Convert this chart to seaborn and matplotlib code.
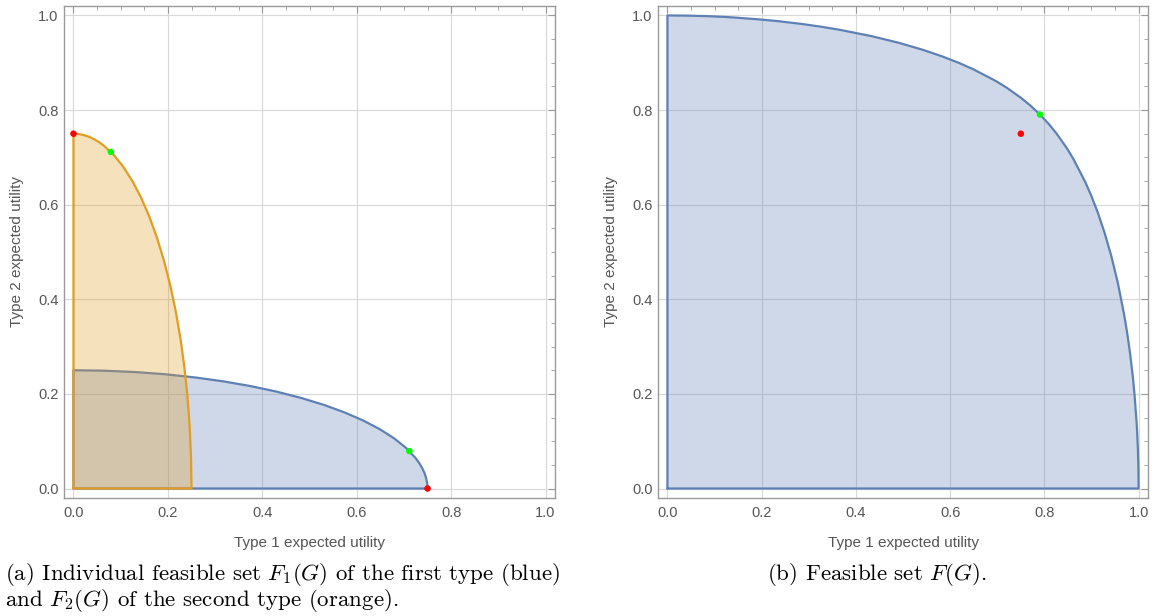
import numpy as np
import pandas as pd
import seaborn as sns
import matplotlib.pyplot as plt

# ---------------------------------------------
# data
# ---------------------------------------------

# boundary of F1(G) (blue), from (0, 0.25) to (0.75, 0)
blue_x = [0.0, 0.0654, 0.1302, 0.1941, 0.2565, 0.3170, 0.375, 0.4302, 0.4821, 0.5303,
          0.5745, 0.6144, 0.6495, 0.6797, 0.7048, 0.7244, 0.7322, 0.7386, 0.7436,
          0.7471, 0.7493, 0.75]
blue_y = [0.25, 0.2490, 0.2462, 0.2415, 0.2349, 0.2266, 0.2165, 0.2048, 0.1915, 0.1768,
          0.1607, 0.1434, 0.125, 0.1057, 0.0855, 0.0647, 0.0541, 0.0434, 0.0326,
          0.0218, 0.0109, 0.0]

# boundary of F2(G) (orange), from (0, 0.75) to (0.25, 0)
orange_x = [0.0, 0.0109, 0.0218, 0.0326, 0.0434, 0.0541, 0.0647, 0.0855, 0.1057, 0.125,
            0.1434, 0.1607, 0.1768, 0.1915, 0.2048, 0.2165, 0.2266, 0.2349, 0.2415,
            0.2462, 0.2490, 0.25]
orange_y = [0.75, 0.7493, 0.7471, 0.7436, 0.7386, 0.7322, 0.7244, 0.7048, 0.6797, 0.6495,
            0.6144, 0.5745, 0.5303, 0.4821, 0.4302, 0.375, 0.3170, 0.2565, 0.1941,
            0.1302, 0.0654, 0.0]

# boundary of F(G), from (0, 1) to (1, 0)
total_x = [0.0, 0.0407, 0.0811, 0.1208, 0.1405, 0.1977, 0.2343, 0.2865, 0.3272, 0.3653,
           0.4338, 0.4921, 0.5415, 0.5832, 0.6185, 0.6485, 0.6968, 0.7201, 0.7498,
           0.7699, 0.7906, 0.8099, 0.8262, 0.8472, 0.8615, 0.8865, 0.8997, 0.9134,
           0.9275, 0.9419, 0.9561, 0.9697, 0.9760, 0.9818, 0.9880, 0.9914, 0.9957,
           0.9969, 0.9986, 0.9996, 1.0]
total_y = [1.0, 0.9996, 0.9986, 0.9969, 0.9957, 0.9914, 0.9880, 0.9818, 0.9760, 0.9697,
           0.9561, 0.9419, 0.9275, 0.9134, 0.8997, 0.8865, 0.8615, 0.8472, 0.8262,
           0.8099, 0.7906, 0.7699, 0.7498, 0.7201, 0.6968, 0.6485, 0.6185, 0.5832,
           0.5415, 0.4921, 0.4338, 0.3653, 0.3272, 0.2865, 0.2343, 0.1977, 0.1405,
           0.1208, 0.0811, 0.0407, 0.0]

# marked points
red_left_x = [0.0, 0.75]
red_left_y = [0.75, 0.0]
green_left_x = [0.0791, 0.7115]
green_left_y = [0.7115, 0.0791]
red_right_x = [0.75]
red_right_y = [0.75]
green_right_x = [0.7906]
green_right_y = [0.7906]

ticks = [0.0, 0.2, 0.4, 0.6, 0.8, 1.0]
tick_labels = ["0.0", "0.2", "0.4", "0.6", "0.8", "1.0"]

# ---------------------------------------------
# style
# ---------------------------------------------

sns.set_theme(style="white")
plt.rcParams["font.family"] = ["Liberation Sans", "DejaVu Sans"]
plt.rcParams["mathtext.fontset"] = "cm"

col_blue = "#5E81B5"
col_orange = "#E19C24"
frame_col = "#9A9A9A"
text_col = "#555555"


def closed(xs, ys):
    # region = corner (0,0) + boundary curve
    return pd.DataFrame({"x": [0.0] + list(xs) + [0.0],
                         "y": [0.0] + list(ys) + [0.0]})


def style_axes(ax):
    ax.set_xlim(-0.02, 1.02)
    ax.set_ylim(-0.02, 1.02)
    ax.set_xticks(ticks)
    ax.set_xticklabels(tick_labels)
    ax.set_yticks(ticks)
    ax.set_yticklabels(tick_labels)
    ax.set_xticks(np.arange(0, 1.01, 0.05), minor=True)
    ax.set_yticks(np.arange(0, 1.01, 0.05), minor=True)
    ax.tick_params(which="both", direction="in", top=True, right=True,
                   color=frame_col, labelcolor=text_col, labelsize=10.5)
    ax.tick_params(axis="x", pad=6)
    ax.tick_params(axis="y", pad=4)
    ax.tick_params(which="major", length=5, width=0.8)
    ax.tick_params(which="minor", length=3, width=0.6)
    ax.grid(True, which="major", color="#D8D8D8", linewidth=0.8)
    ax.set_axisbelow(True)
    for s in ax.spines.values():
        s.set_color(frame_col)
        s.set_linewidth(1.0)
    ax.set_xlabel("Type 1 expected utility", color=text_col, fontsize=11, labelpad=11)
    ax.set_ylabel("Type 2 expected utility", color=text_col, fontsize=11, labelpad=10)


fig = plt.figure(figsize=(11.56, 6.16), dpi=100)
ax1 = fig.add_axes([0.0554, 0.1916, 0.4247, 0.7987])
ax2 = fig.add_axes([0.5692, 0.1916, 0.4239, 0.7987])

# ---------------------------------------------
# (a) individual feasible sets
# ---------------------------------------------

blue_df = closed(blue_x, blue_y)
orange_df = closed(orange_x, orange_y)

ax1.fill(blue_df["x"], blue_df["y"], color=col_blue, alpha=0.3, lw=0, zorder=2)
sns.lineplot(data=blue_df, x="x", y="y", sort=False, estimator=None,
             color=col_blue, linewidth=1.6, ax=ax1, zorder=3)
ax1.fill(orange_df["x"], orange_df["y"], color=col_orange, alpha=0.3, lw=0, zorder=4)
sns.lineplot(data=orange_df, x="x", y="y", sort=False, estimator=None,
             color=col_orange, linewidth=1.6, ax=ax1, zorder=5)

sns.scatterplot(x=red_left_x, y=red_left_y, color="#FF0000", s=22,
                edgecolor="none", ax=ax1, zorder=6)
sns.scatterplot(x=green_left_x, y=green_left_y, color="#00FF00", s=22,
                edgecolor="none", ax=ax1, zorder=6)
style_axes(ax1)

# ---------------------------------------------
# (b) feasible set
# ---------------------------------------------

total_df = closed(total_x, total_y)
ax2.fill(total_df["x"], total_df["y"], color=col_blue, alpha=0.3, lw=0, zorder=2)
sns.lineplot(data=total_df, x="x", y="y", sort=False, estimator=None,
             color=col_blue, linewidth=1.6, ax=ax2, zorder=3)
sns.scatterplot(x=red_right_x, y=red_right_y, color="#FF0000", s=22,
                edgecolor="none", ax=ax2, zorder=6)
sns.scatterplot(x=green_right_x, y=green_right_y, color="#00FF00", s=22,
                edgecolor="none", ax=ax2, zorder=6)
style_axes(ax2)

# ---------------------------------------------
# captions
# ---------------------------------------------

cap = dict(fontsize=16.5, color="black", family="cmr10", va="center")
fig.text(5 / 1156, 1 - 574 / 616,
         r"(a) Individual feasible set $F_1(G)$ of the first type (blue)", ha="left", **cap)
fig.text(5 / 1156, 1 - 601 / 616,
         r"and $F_2(G)$ of the second type (orange).", ha="left", **cap)
fig.text(877 / 1156, 1 - 574 / 616, r"(b) Feasible set $F(G)$.", ha="center", **cap)

fig.savefig("out.png", dpi=100)
